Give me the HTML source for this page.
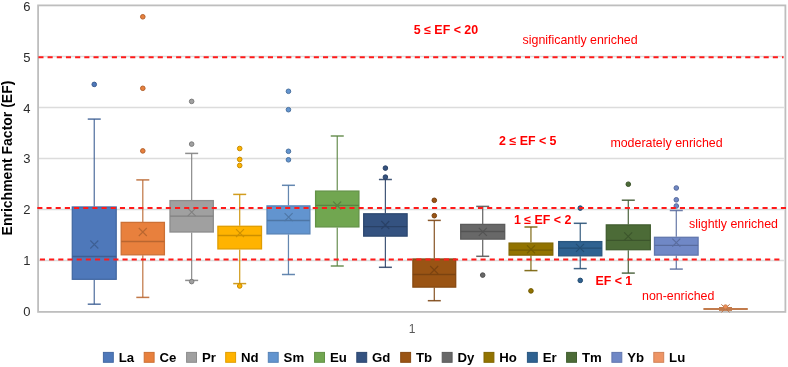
<!DOCTYPE html>
<html><head><meta charset="utf-8"><style>
html,body{margin:0;padding:0;background:#fff;}
body{width:788px;height:367px;overflow:hidden;}
svg{display:block;filter:blur(0.35px);}
text{font-family:"Liberation Sans", sans-serif;}
</style></head><body>
<svg width="788" height="367" viewBox="0 0 788 367">
<rect width="788" height="367" fill="#fff"/>

<line x1="38.1" y1="260.57" x2="783.9" y2="260.57" stroke="#DCDCDC" stroke-width="1.6"/>
<line x1="38.1" y1="209.54" x2="783.9" y2="209.54" stroke="#DCDCDC" stroke-width="1.6"/>
<line x1="38.1" y1="158.51" x2="783.9" y2="158.51" stroke="#DCDCDC" stroke-width="1.6"/>
<line x1="38.1" y1="107.48" x2="783.9" y2="107.48" stroke="#DCDCDC" stroke-width="1.6"/>
<line x1="38.1" y1="56.45" x2="783.9" y2="56.45" stroke="#DCDCDC" stroke-width="1.6"/>
<rect x="38.1" y="5.4" width="747.30" height="306.50" fill="none" stroke="#BEBEBE" stroke-width="1.8"/>
<line x1="94.25" y1="119.10" x2="94.25" y2="206.50" stroke="#3E6094" stroke-width="1.25" stroke-opacity="0.88"/>
<line x1="94.25" y1="279.80" x2="94.25" y2="304.20" stroke="#3E6094" stroke-width="1.25" stroke-opacity="0.88"/>
<line x1="87.75" y1="119.10" x2="100.75" y2="119.10" stroke="#3E6094" stroke-width="1.5" stroke-opacity="0.88"/>
<line x1="87.75" y1="304.20" x2="100.75" y2="304.20" stroke="#3E6094" stroke-width="1.5" stroke-opacity="0.88"/>
<rect x="72.30" y="207.00" width="43.90" height="72.30" fill="#4E78BA" stroke="#4469A3" stroke-width="1.3"/>
<line x1="72.30" y1="256.50" x2="116.20" y2="256.50" stroke="#3E6094" stroke-width="1.3"/>
<path d="M90.30 240.50L98.30 248.50M98.30 240.50L90.30 248.50" stroke="#3E6094" stroke-width="1.1" fill="none"/>
<circle cx="94.25" cy="84.40" r="2.3" fill="#4E78BA" stroke="#3C5D91" stroke-width="1"/>
<line x1="142.80" y1="179.90" x2="142.80" y2="221.90" stroke="#B96630" stroke-width="1.25" stroke-opacity="0.88"/>
<line x1="142.80" y1="255.30" x2="142.80" y2="297.40" stroke="#B96630" stroke-width="1.25" stroke-opacity="0.88"/>
<line x1="136.30" y1="179.90" x2="149.30" y2="179.90" stroke="#B96630" stroke-width="1.5" stroke-opacity="0.88"/>
<line x1="136.30" y1="297.40" x2="149.30" y2="297.40" stroke="#B96630" stroke-width="1.5" stroke-opacity="0.88"/>
<rect x="121.20" y="222.40" width="43.20" height="32.40" fill="#E8803D" stroke="#CC7035" stroke-width="1.3"/>
<line x1="121.20" y1="241.50" x2="164.40" y2="241.50" stroke="#B96630" stroke-width="1.3"/>
<path d="M138.80 228.00L146.80 236.00M146.80 228.00L138.80 236.00" stroke="#B96630" stroke-width="1.1" fill="none"/>
<circle cx="142.80" cy="16.80" r="2.3" fill="#E8803D" stroke="#B4632F" stroke-width="1"/>
<circle cx="142.80" cy="88.30" r="2.3" fill="#E8803D" stroke="#B4632F" stroke-width="1"/>
<circle cx="142.80" cy="150.90" r="2.3" fill="#E8803D" stroke="#B4632F" stroke-width="1"/>
<line x1="191.65" y1="153.40" x2="191.65" y2="200.10" stroke="#808080" stroke-width="1.25" stroke-opacity="0.88"/>
<line x1="191.65" y1="232.50" x2="191.65" y2="280.40" stroke="#808080" stroke-width="1.25" stroke-opacity="0.88"/>
<line x1="185.15" y1="153.40" x2="198.15" y2="153.40" stroke="#808080" stroke-width="1.5" stroke-opacity="0.88"/>
<line x1="185.15" y1="280.40" x2="198.15" y2="280.40" stroke="#808080" stroke-width="1.5" stroke-opacity="0.88"/>
<rect x="170.00" y="200.60" width="43.30" height="31.40" fill="#A0A0A0" stroke="#8C8C8C" stroke-width="1.3"/>
<line x1="170.00" y1="216.20" x2="213.30" y2="216.20" stroke="#808080" stroke-width="1.3"/>
<path d="M187.70 208.10L195.70 216.10M195.70 208.10L187.70 216.10" stroke="#808080" stroke-width="1.1" fill="none"/>
<circle cx="191.65" cy="101.40" r="2.3" fill="#A0A0A0" stroke="#7C7C7C" stroke-width="1"/>
<circle cx="191.65" cy="144.10" r="2.3" fill="#A0A0A0" stroke="#7C7C7C" stroke-width="1"/>
<circle cx="191.65" cy="281.60" r="2.3" fill="#A0A0A0" stroke="#7C7C7C" stroke-width="1"/>
<line x1="239.70" y1="194.40" x2="239.70" y2="225.80" stroke="#CC8F00" stroke-width="1.25" stroke-opacity="0.88"/>
<line x1="239.70" y1="249.40" x2="239.70" y2="283.60" stroke="#CC8F00" stroke-width="1.25" stroke-opacity="0.88"/>
<line x1="233.20" y1="194.40" x2="246.20" y2="194.40" stroke="#CC8F00" stroke-width="1.5" stroke-opacity="0.88"/>
<line x1="233.20" y1="283.60" x2="246.20" y2="283.60" stroke="#CC8F00" stroke-width="1.5" stroke-opacity="0.88"/>
<rect x="217.90" y="226.30" width="43.60" height="22.60" fill="#FFB300" stroke="#E09D00" stroke-width="1.3"/>
<line x1="217.90" y1="235.50" x2="261.50" y2="235.50" stroke="#CC8F00" stroke-width="1.3"/>
<path d="M236.00 229.10L244.00 237.10M244.00 229.10L236.00 237.10" stroke="#CC8F00" stroke-width="1.1" fill="none"/>
<circle cx="239.70" cy="148.50" r="2.3" fill="#FFB300" stroke="#C68B00" stroke-width="1"/>
<circle cx="239.70" cy="159.40" r="2.3" fill="#FFB300" stroke="#C68B00" stroke-width="1"/>
<circle cx="239.70" cy="165.50" r="2.3" fill="#FFB300" stroke="#C68B00" stroke-width="1"/>
<circle cx="239.70" cy="286.00" r="2.3" fill="#FFB300" stroke="#C68B00" stroke-width="1"/>
<line x1="288.45" y1="185.30" x2="288.45" y2="205.40" stroke="#4E76A5" stroke-width="1.25" stroke-opacity="0.88"/>
<line x1="288.45" y1="234.40" x2="288.45" y2="274.50" stroke="#4E76A5" stroke-width="1.25" stroke-opacity="0.88"/>
<line x1="281.95" y1="185.30" x2="294.95" y2="185.30" stroke="#4E76A5" stroke-width="1.5" stroke-opacity="0.88"/>
<line x1="281.95" y1="274.50" x2="294.95" y2="274.50" stroke="#4E76A5" stroke-width="1.5" stroke-opacity="0.88"/>
<rect x="267.00" y="205.90" width="42.90" height="28.00" fill="#6294CF" stroke="#5682B6" stroke-width="1.3"/>
<line x1="267.00" y1="220.50" x2="309.90" y2="220.50" stroke="#4E76A5" stroke-width="1.3"/>
<path d="M284.60 213.20L292.60 221.20M292.60 213.20L284.60 221.20" stroke="#4E76A5" stroke-width="1.1" fill="none"/>
<circle cx="288.45" cy="91.30" r="2.3" fill="#6294CF" stroke="#4C73A1" stroke-width="1"/>
<circle cx="288.45" cy="109.70" r="2.3" fill="#6294CF" stroke="#4C73A1" stroke-width="1"/>
<circle cx="288.45" cy="151.30" r="2.3" fill="#6294CF" stroke="#4C73A1" stroke-width="1"/>
<circle cx="288.45" cy="159.80" r="2.3" fill="#6294CF" stroke="#4C73A1" stroke-width="1"/>
<line x1="337.25" y1="136.00" x2="337.25" y2="190.60" stroke="#5A8440" stroke-width="1.25" stroke-opacity="0.88"/>
<line x1="337.25" y1="227.40" x2="337.25" y2="266.00" stroke="#5A8440" stroke-width="1.25" stroke-opacity="0.88"/>
<line x1="330.75" y1="136.00" x2="343.75" y2="136.00" stroke="#5A8440" stroke-width="1.5" stroke-opacity="0.88"/>
<line x1="330.75" y1="266.00" x2="343.75" y2="266.00" stroke="#5A8440" stroke-width="1.5" stroke-opacity="0.88"/>
<rect x="315.60" y="191.10" width="43.30" height="35.80" fill="#71A650" stroke="#639246" stroke-width="1.3"/>
<line x1="315.60" y1="205.30" x2="358.90" y2="205.30" stroke="#5A8440" stroke-width="1.3"/>
<path d="M333.20 201.50L341.20 209.50M341.20 201.50L333.20 209.50" stroke="#5A8440" stroke-width="1.1" fill="none"/>
<line x1="385.40" y1="179.50" x2="385.40" y2="213.30" stroke="#294166" stroke-width="1.25" stroke-opacity="0.88"/>
<line x1="385.40" y1="236.60" x2="385.40" y2="267.30" stroke="#294166" stroke-width="1.25" stroke-opacity="0.88"/>
<line x1="378.90" y1="179.50" x2="391.90" y2="179.50" stroke="#294166" stroke-width="1.5" stroke-opacity="0.88"/>
<line x1="378.90" y1="267.30" x2="391.90" y2="267.30" stroke="#294166" stroke-width="1.5" stroke-opacity="0.88"/>
<rect x="363.70" y="213.80" width="43.40" height="22.30" fill="#345280" stroke="#2D4870" stroke-width="1.3"/>
<line x1="363.70" y1="226.60" x2="407.10" y2="226.60" stroke="#294166" stroke-width="1.3"/>
<path d="M381.30 221.00L389.30 229.00M389.30 221.00L381.30 229.00" stroke="#294166" stroke-width="1.1" fill="none"/>
<circle cx="385.40" cy="168.10" r="2.3" fill="#345280" stroke="#283F63" stroke-width="1"/>
<circle cx="385.40" cy="177.10" r="2.3" fill="#345280" stroke="#283F63" stroke-width="1"/>
<line x1="434.30" y1="220.40" x2="434.30" y2="258.50" stroke="#7B4310" stroke-width="1.25" stroke-opacity="0.88"/>
<line x1="434.30" y1="287.60" x2="434.30" y2="300.70" stroke="#7B4310" stroke-width="1.25" stroke-opacity="0.88"/>
<line x1="427.80" y1="220.40" x2="440.80" y2="220.40" stroke="#7B4310" stroke-width="1.5" stroke-opacity="0.88"/>
<line x1="427.80" y1="300.70" x2="440.80" y2="300.70" stroke="#7B4310" stroke-width="1.5" stroke-opacity="0.88"/>
<rect x="412.90" y="259.00" width="42.80" height="28.10" fill="#9A5414" stroke="#874911" stroke-width="1.3"/>
<line x1="412.90" y1="274.50" x2="455.70" y2="274.50" stroke="#7B4310" stroke-width="1.3"/>
<path d="M430.20 266.00L438.20 274.00M438.20 266.00L430.20 274.00" stroke="#7B4310" stroke-width="1.1" fill="none"/>
<circle cx="434.30" cy="200.30" r="2.3" fill="#9A5414" stroke="#78410F" stroke-width="1"/>
<circle cx="434.30" cy="215.70" r="2.3" fill="#9A5414" stroke="#78410F" stroke-width="1"/>
<line x1="482.70" y1="206.40" x2="482.70" y2="223.90" stroke="#535353" stroke-width="1.25" stroke-opacity="0.88"/>
<line x1="482.70" y1="239.60" x2="482.70" y2="256.30" stroke="#535353" stroke-width="1.25" stroke-opacity="0.88"/>
<line x1="476.20" y1="206.40" x2="489.20" y2="206.40" stroke="#535353" stroke-width="1.5" stroke-opacity="0.88"/>
<line x1="476.20" y1="256.30" x2="489.20" y2="256.30" stroke="#535353" stroke-width="1.5" stroke-opacity="0.88"/>
<rect x="460.70" y="224.40" width="44.00" height="14.70" fill="#686868" stroke="#5B5B5B" stroke-width="1.3"/>
<line x1="460.70" y1="231.50" x2="504.70" y2="231.50" stroke="#535353" stroke-width="1.3"/>
<path d="M478.80 227.80L486.80 235.80M486.80 227.80L478.80 235.80" stroke="#535353" stroke-width="1.1" fill="none"/>
<circle cx="482.70" cy="275.10" r="2.3" fill="#686868" stroke="#515151" stroke-width="1"/>
<line x1="530.95" y1="227.00" x2="530.95" y2="242.60" stroke="#745C00" stroke-width="1.25" stroke-opacity="0.88"/>
<line x1="530.95" y1="255.60" x2="530.95" y2="270.60" stroke="#745C00" stroke-width="1.25" stroke-opacity="0.88"/>
<line x1="524.45" y1="227.00" x2="537.45" y2="227.00" stroke="#745C00" stroke-width="1.5" stroke-opacity="0.88"/>
<line x1="524.45" y1="270.60" x2="537.45" y2="270.60" stroke="#745C00" stroke-width="1.5" stroke-opacity="0.88"/>
<rect x="509.10" y="243.10" width="43.70" height="12.00" fill="#927300" stroke="#806500" stroke-width="1.3"/>
<line x1="509.10" y1="250.20" x2="552.80" y2="250.20" stroke="#745C00" stroke-width="1.3"/>
<path d="M527.00 245.30L535.00 253.30M535.00 245.30L527.00 253.30" stroke="#745C00" stroke-width="1.1" fill="none"/>
<circle cx="530.95" cy="290.90" r="2.3" fill="#927300" stroke="#715900" stroke-width="1"/>
<line x1="580.25" y1="223.30" x2="580.25" y2="241.10" stroke="#254E74" stroke-width="1.25" stroke-opacity="0.88"/>
<line x1="580.25" y1="256.30" x2="580.25" y2="268.60" stroke="#254E74" stroke-width="1.25" stroke-opacity="0.88"/>
<line x1="573.75" y1="223.30" x2="586.75" y2="223.30" stroke="#254E74" stroke-width="1.5" stroke-opacity="0.88"/>
<line x1="573.75" y1="268.60" x2="586.75" y2="268.60" stroke="#254E74" stroke-width="1.5" stroke-opacity="0.88"/>
<rect x="558.70" y="241.60" width="43.10" height="14.20" fill="#2F6291" stroke="#29567F" stroke-width="1.3"/>
<line x1="558.70" y1="248.10" x2="601.80" y2="248.10" stroke="#254E74" stroke-width="1.3"/>
<path d="M576.00 243.80L584.00 251.80M584.00 243.80L576.00 251.80" stroke="#254E74" stroke-width="1.1" fill="none"/>
<circle cx="580.25" cy="208.10" r="2.3" fill="#2F6291" stroke="#244C71" stroke-width="1"/>
<circle cx="580.25" cy="280.40" r="2.3" fill="#2F6291" stroke="#244C71" stroke-width="1"/>
<line x1="628.30" y1="200.20" x2="628.30" y2="224.40" stroke="#3C552C" stroke-width="1.25" stroke-opacity="0.88"/>
<line x1="628.30" y1="250.20" x2="628.30" y2="273.10" stroke="#3C552C" stroke-width="1.25" stroke-opacity="0.88"/>
<line x1="621.80" y1="200.20" x2="634.80" y2="200.20" stroke="#3C552C" stroke-width="1.5" stroke-opacity="0.88"/>
<line x1="621.80" y1="273.10" x2="634.80" y2="273.10" stroke="#3C552C" stroke-width="1.5" stroke-opacity="0.88"/>
<rect x="606.30" y="224.90" width="44.00" height="24.80" fill="#4C6B37" stroke="#425E30" stroke-width="1.3"/>
<line x1="606.30" y1="240.40" x2="650.30" y2="240.40" stroke="#3C552C" stroke-width="1.3"/>
<path d="M624.20 232.30L632.20 240.30M632.20 232.30L624.20 240.30" stroke="#3C552C" stroke-width="1.1" fill="none"/>
<circle cx="628.30" cy="184.20" r="2.3" fill="#4C6B37" stroke="#3B532A" stroke-width="1"/>
<line x1="676.30" y1="210.50" x2="676.30" y2="236.80" stroke="#596C9E" stroke-width="1.25" stroke-opacity="0.88"/>
<line x1="676.30" y1="255.60" x2="676.30" y2="269.10" stroke="#596C9E" stroke-width="1.25" stroke-opacity="0.88"/>
<line x1="669.80" y1="210.50" x2="682.80" y2="210.50" stroke="#596C9E" stroke-width="1.5" stroke-opacity="0.88"/>
<line x1="669.80" y1="269.10" x2="682.80" y2="269.10" stroke="#596C9E" stroke-width="1.5" stroke-opacity="0.88"/>
<rect x="654.50" y="237.30" width="43.60" height="17.80" fill="#7088C6" stroke="#6277AE" stroke-width="1.3"/>
<line x1="654.50" y1="245.40" x2="698.10" y2="245.40" stroke="#596C9E" stroke-width="1.3"/>
<path d="M672.30 238.70L680.30 246.70M680.30 238.70L672.30 246.70" stroke="#596C9E" stroke-width="1.1" fill="none"/>
<circle cx="676.30" cy="188.00" r="2.3" fill="#7088C6" stroke="#576A9A" stroke-width="1"/>
<circle cx="676.30" cy="199.80" r="2.3" fill="#7088C6" stroke="#576A9A" stroke-width="1"/>
<circle cx="676.30" cy="206.00" r="2.3" fill="#7088C6" stroke="#576A9A" stroke-width="1"/>
<line x1="703.4" y1="308.9" x2="747.8" y2="308.9" stroke="#C27B4C" stroke-width="2"/>
<line x1="719" y1="307.6" x2="732" y2="307.6" stroke="#C27B4C" stroke-width="1.2"/>
<line x1="719" y1="310.3" x2="732" y2="310.3" stroke="#C27B4C" stroke-width="1.2"/>
<path d="M721.40 304.30L729.60 312.50M729.60 304.30L721.40 312.50" stroke="#B8744A" stroke-width="1" fill="none"/>
<circle cx="725.5" cy="306.8" r="2.1" fill="#EC8D55" stroke="#C27B4C" stroke-width="0.7"/>
<line x1="38.4" y1="57.3" x2="783.6" y2="57.3" stroke="#FF1A1A" stroke-width="2" stroke-dasharray="5.1 4.08"/>
<line x1="37.3" y1="208.0" x2="786.0" y2="208.0" stroke="#FF1A1A" stroke-width="2" stroke-dasharray="5.1 4.08"/>
<line x1="39.9" y1="259.5" x2="780.0" y2="259.5" stroke="#FF1A1A" stroke-width="2" stroke-dasharray="5.1 4.08"/>
<text x="30.5" y="316.00" font-size="13" fill="#2B2B2B" text-anchor="end">0</text>
<text x="30.5" y="265.16" font-size="13" fill="#2B2B2B" text-anchor="end">1</text>
<text x="30.5" y="214.32" font-size="13" fill="#2B2B2B" text-anchor="end">2</text>
<text x="30.5" y="163.48" font-size="13" fill="#2B2B2B" text-anchor="end">3</text>
<text x="30.5" y="112.64" font-size="13" fill="#2B2B2B" text-anchor="end">4</text>
<text x="30.5" y="61.80" font-size="13" fill="#2B2B2B" text-anchor="end">5</text>
<text x="30.5" y="10.96" font-size="13" fill="#2B2B2B" text-anchor="end">6</text>
<text x="412" y="332.8" font-size="12" fill="#595959" text-anchor="middle">1</text>
<text transform="translate(11.9,158) rotate(-90)" font-size="14" font-weight="bold" fill="#000" text-anchor="middle">Enrichment Factor (EF)</text>
<text x="413.8" y="34.3" font-size="12.4" font-weight="bold" fill="#FF0000">5 ≤ EF &lt; 20</text>
<text x="522.6" y="43.7" font-size="12.4" font-weight="normal" fill="#FF0000">significantly enriched</text>
<text x="499.1" y="144.5" font-size="12.4" font-weight="bold" fill="#FF0000">2 ≤ EF &lt; 5</text>
<text x="610.4" y="146.5" font-size="12.4" font-weight="normal" fill="#FF0000">moderately enriched</text>
<text x="513.9" y="224.2" font-size="12.4" font-weight="bold" fill="#FF0000">1 ≤ EF &lt; 2</text>
<text x="689.1" y="227.5" font-size="12.4" font-weight="normal" fill="#FF0000">slightly enriched</text>
<text x="595.4" y="285.2" font-size="12.4" font-weight="bold" fill="#FF0000">EF &lt; 1</text>
<text x="642.0" y="299.7" font-size="12.4" font-weight="normal" fill="#FF0000">non-enriched</text>
<rect x="103.40" y="352.4" width="9.9" height="9.9" fill="#4E78BA" stroke="#4469A3" stroke-width="1"/>
<text x="118.70" y="362.2" font-size="13.2" font-weight="bold" fill="#000">La</text>
<rect x="144.20" y="352.4" width="9.9" height="9.9" fill="#E8803D" stroke="#CC7035" stroke-width="1"/>
<text x="159.50" y="362.2" font-size="13.2" font-weight="bold" fill="#000">Ce</text>
<rect x="186.60" y="352.4" width="9.9" height="9.9" fill="#A0A0A0" stroke="#8C8C8C" stroke-width="1"/>
<text x="201.90" y="362.2" font-size="13.2" font-weight="bold" fill="#000">Pr</text>
<rect x="225.70" y="352.4" width="9.9" height="9.9" fill="#FFB300" stroke="#E09D00" stroke-width="1"/>
<text x="241.00" y="362.2" font-size="13.2" font-weight="bold" fill="#000">Nd</text>
<rect x="268.30" y="352.4" width="9.9" height="9.9" fill="#6294CF" stroke="#5682B6" stroke-width="1"/>
<text x="283.60" y="362.2" font-size="13.2" font-weight="bold" fill="#000">Sm</text>
<rect x="314.60" y="352.4" width="9.9" height="9.9" fill="#71A650" stroke="#639246" stroke-width="1"/>
<text x="329.90" y="362.2" font-size="13.2" font-weight="bold" fill="#000">Eu</text>
<rect x="356.80" y="352.4" width="9.9" height="9.9" fill="#345280" stroke="#2D4870" stroke-width="1"/>
<text x="372.10" y="362.2" font-size="13.2" font-weight="bold" fill="#000">Gd</text>
<rect x="400.70" y="352.4" width="9.9" height="9.9" fill="#9A5414" stroke="#874911" stroke-width="1"/>
<text x="416.00" y="362.2" font-size="13.2" font-weight="bold" fill="#000">Tb</text>
<rect x="442.20" y="352.4" width="9.9" height="9.9" fill="#686868" stroke="#5B5B5B" stroke-width="1"/>
<text x="457.50" y="362.2" font-size="13.2" font-weight="bold" fill="#000">Dy</text>
<rect x="484.00" y="352.4" width="9.9" height="9.9" fill="#927300" stroke="#806500" stroke-width="1"/>
<text x="499.30" y="362.2" font-size="13.2" font-weight="bold" fill="#000">Ho</text>
<rect x="527.40" y="352.4" width="9.9" height="9.9" fill="#2F6291" stroke="#29567F" stroke-width="1"/>
<text x="542.70" y="362.2" font-size="13.2" font-weight="bold" fill="#000">Er</text>
<rect x="566.60" y="352.4" width="9.9" height="9.9" fill="#4C6B37" stroke="#425E30" stroke-width="1"/>
<text x="581.90" y="362.2" font-size="13.2" font-weight="bold" fill="#000">Tm</text>
<rect x="611.90" y="352.4" width="9.9" height="9.9" fill="#7088C6" stroke="#6277AE" stroke-width="1"/>
<text x="627.20" y="362.2" font-size="13.2" font-weight="bold" fill="#000">Yb</text>
<rect x="653.80" y="352.4" width="9.9" height="9.9" fill="#EE9464" stroke="#D18258" stroke-width="1"/>
<text x="669.10" y="362.2" font-size="13.2" font-weight="bold" fill="#000">Lu</text>
</svg></body></html>
